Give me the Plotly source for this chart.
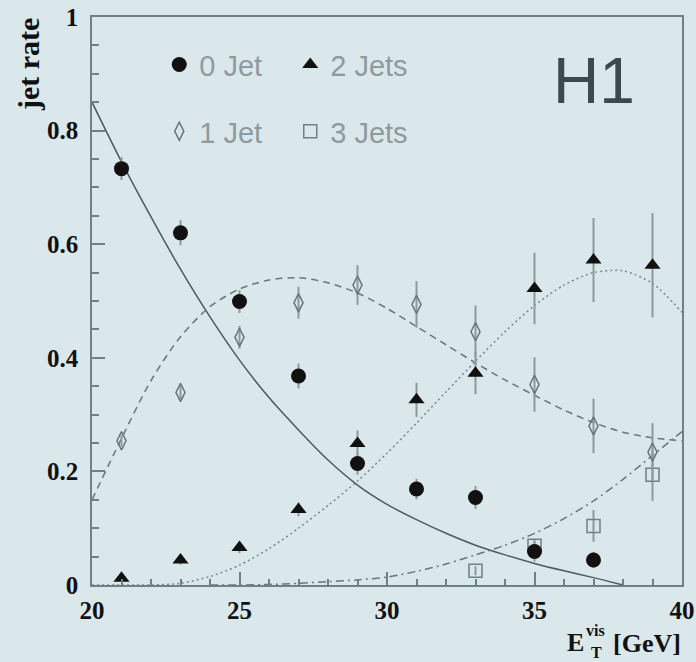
import plotly.graph_objects as go

# ---------------- data ----------------
et_0jet = [21, 23, 25, 27, 29, 31, 33, 35, 37]
rate_0jet = [0.733, 0.620, 0.499, 0.368, 0.214, 0.169, 0.154, 0.059, 0.044]
err_0jet = [0.020, 0.022, 0.020, 0.022, 0.020, 0.018, 0.020, 0.018, 0.014]

et_1jet = [21, 23, 25, 27, 29, 31, 33, 35, 37, 39]
rate_1jet = [0.254, 0.339, 0.436, 0.497, 0.528, 0.494, 0.446, 0.353, 0.280, 0.234]
err_1jet = [0.010, 0.012, 0.020, 0.028, 0.035, 0.041, 0.046, 0.048, 0.048, 0.051]

et_2jets = [21, 23, 25, 27, 29, 31, 33, 35, 37, 39]
rate_2jets = [0.012, 0.044, 0.066, 0.133, 0.249, 0.326, 0.373, 0.522, 0.572, 0.563]
err_2jets = [0.005, 0.008, 0.010, 0.012, 0.023, 0.030, 0.037, 0.063, 0.074, 0.092]

et_3jets = [33, 35, 37, 39]
rate_3jets = [0.025, 0.069, 0.104, 0.194]
err_3jets = [0.008, 0.012, 0.028, 0.046]

# theory curves, sampled by eye
curve0_x = [20, 21, 22, 23, 24, 25, 26, 27, 28, 29, 30, 31, 32, 33, 34, 35, 36, 37, 38]
curve0_y = [0.850, 0.745, 0.648, 0.556, 0.472, 0.396, 0.330, 0.273, 0.220, 0.176, 0.142,
            0.115, 0.091, 0.070, 0.053, 0.038, 0.025, 0.013, 0.0]

curve1_x = [20, 21, 22, 23, 24, 25, 26, 27, 28, 29, 30, 31, 32, 33, 34, 35, 36, 37, 38, 39, 40]
curve1_y = [0.150, 0.258, 0.360, 0.437, 0.490, 0.521, 0.537, 0.541, 0.532, 0.514, 0.487,
            0.455, 0.423, 0.391, 0.361, 0.334, 0.308, 0.286, 0.269, 0.259, 0.254]

curve2_x = [20, 21, 22, 23, 24, 25, 26, 27, 28, 29, 30, 31, 32, 33, 34, 35, 36, 37, 38, 39, 40]
curve2_y = [0.0, 0.0, 0.0, 0.003, 0.015, 0.035, 0.064, 0.100, 0.140, 0.183, 0.232,
            0.285, 0.340, 0.394, 0.446, 0.492, 0.528, 0.550, 0.553, 0.531, 0.480]

curve3_x = [24, 25, 26, 27, 28, 29, 30, 31, 32, 33, 34, 35, 36, 37, 38, 39, 40]
curve3_y = [0.0, 0.0, 0.001, 0.003, 0.006, 0.009, 0.014, 0.024, 0.037, 0.053, 0.070,
            0.091, 0.117, 0.148, 0.186, 0.228, 0.270]

x_ticks = [20, 25, 30, 35, 40]
y_ticks = [0, 0.2, 0.4, 0.6, 0.8, 1]
y_tick_labels = ["0", "0.2", "0.4", "0.6", "0.8", "1"]

# ---------------- styling ----------------
BG = "#dbe8eb"
FRAME = "#6f8086"
ERR = "#8a9aa0"
SERIF = "Liberation Serif"
SANS = "Liberation Sans"
LEG_TXT = "#8d9ba0"

fig = go.Figure()

# curves
fig.add_trace(go.Scatter(x=curve0_x, y=curve0_y, mode="lines", showlegend=False,
                         line=dict(color="#4e5a5e", width=1.5, shape="spline", smoothing=0.8),
                         hoverinfo="skip"))
fig.add_trace(go.Scatter(x=curve1_x, y=curve1_y, mode="lines", showlegend=False,
                         line=dict(color="#66767c", width=1.5, dash="7px,5px", shape="spline", smoothing=0.8),
                         hoverinfo="skip"))
fig.add_trace(go.Scatter(x=curve2_x, y=curve2_y, mode="lines", showlegend=False,
                         line=dict(color="#76878d", width=1.5, dash="2px,3px", shape="spline", smoothing=0.8),
                         hoverinfo="skip"))
fig.add_trace(go.Scatter(x=curve3_x, y=curve3_y, mode="lines", showlegend=False,
                         line=dict(color="#66767c", width=1.5, dash="8px,4px,2px,4px", shape="spline", smoothing=0.8),
                         hoverinfo="skip"))

def err(v):
    return dict(type="data", array=v, visible=True, color=ERR, thickness=2, width=0)

# data points
fig.add_trace(go.Scatter(x=et_3jets, y=rate_3jets, mode="markers", name="3 Jets",
                         legend="legend2", legendgroup="g3", legendrank=2,
                         error_y=err(err_3jets),
                         marker=dict(symbol="square-open", size=13, color="#6f8086",
                                     line=dict(width=1.5, color="#6f8086"))))
fig.add_trace(go.Scatter(x=et_1jet, y=rate_1jet, mode="markers", name="1 Jet",
                         legend="legend", legendgroup="g1", legendrank=2,
                         error_y=err(err_1jet),
                         marker=dict(symbol="diamond-tall-open", size=13, color="#66767c",
                                     line=dict(width=1.5, color="#66767c"))))
fig.add_trace(go.Scatter(x=et_2jets, y=rate_2jets, mode="markers", name="2 Jets",
                         legend="legend2", legendgroup="g2", legendrank=1,
                         error_y=err(err_2jets),
                         marker=dict(symbol="triangle-up", size=14, color="#111111")))
fig.add_trace(go.Scatter(x=et_0jet, y=rate_0jet, mode="markers", name="0 Jet",
                         legend="legend", legendgroup="g0", legendrank=1,
                         error_y=err(err_0jet),
                         marker=dict(symbol="circle", size=15, color="#111111")))

legend_common = dict(font=dict(family=SANS, size=29, color=LEG_TXT),
                     bgcolor="rgba(0,0,0,0)", borderwidth=0,
                     traceorder="grouped", tracegroupgap=26,
                     itemsizing="trace", yanchor="top", xanchor="left")

fig.update_layout(
    width=696, height=662,
    margin=dict(l=92, r=14, t=17, b=77, autoexpand=False),
    paper_bgcolor=BG, plot_bgcolor=BG,
    legend=dict(x=0.114, y=0.961, **legend_common),
    legend2=dict(x=0.336, y=0.961, **legend_common),
    xaxis=dict(range=[20, 40], tickvals=x_ticks, ticks="inside", ticklen=13, tickwidth=1.5,
               tickcolor=FRAME, showline=True, linecolor=FRAME, linewidth=1.5, mirror=True,
               showgrid=False, zeroline=False, ticklabelstandoff=2, automargin=False,
               tickfont=dict(family=SERIF, size=25, color="#111111", weight="bold"),
               minor=dict(dtick=1, ticks="inside", ticklen=6, tickwidth=1.5, tickcolor=FRAME,
                          showgrid=False)),
    yaxis=dict(range=[0, 1], tickvals=y_ticks, ticktext=y_tick_labels, ticks="inside",
               ticklen=13, tickwidth=1.5, tickcolor=FRAME, showline=True, linecolor=FRAME,
               linewidth=1.5, mirror=True, showgrid=False, zeroline=False, ticklabelstandoff=7,
               automargin=False,
               tickfont=dict(family=SERIF, size=25, color="#111111", weight="bold"),
               minor=dict(dtick=0.05, ticks="inside", ticklen=7, tickwidth=1.5, tickcolor=FRAME,
                          showgrid=False)),
    annotations=[
        dict(text="H1", xref="paper", yref="paper", x=0.850, y=0.887, showarrow=False,
             xanchor="center", yanchor="middle",
             font=dict(family=SANS, size=64, color="#3c494e")),
        dict(text="jet rate", xref="paper", yref="paper", x=-0.108, y=0.916, showarrow=False,
             textangle=-90, xanchor="center", yanchor="middle",
             font=dict(family=SERIF, size=30, color="#111111", weight="bold")),
        dict(text="E", xref="paper", yref="paper", x=(575 - 92) / 590, y=(585 - 642) / 568,
             showarrow=False, xanchor="center", yanchor="middle",
             font=dict(family=SERIF, size=26, color="#111111", weight="bold")),
        dict(text="vis", xref="paper", yref="paper", x=(595 - 92) / 590, y=(585 - 630) / 568,
             showarrow=False, xanchor="center", yanchor="middle",
             font=dict(family=SERIF, size=16, color="#111111", weight="bold")),
        dict(text="T", xref="paper", yref="paper", x=(596 - 92) / 590, y=(585 - 652) / 568,
             showarrow=False, xanchor="center", yanchor="middle",
             font=dict(family=SERIF, size=16, color="#111111", weight="bold")),
        dict(text="[GeV]", xref="paper", yref="paper", x=(647 - 92) / 590, y=(585 - 643) / 568,
             showarrow=False, xanchor="center", yanchor="middle",
             font=dict(family=SERIF, size=26, color="#111111", weight="bold")),
    ],
)

fig.write_html("out.html")
